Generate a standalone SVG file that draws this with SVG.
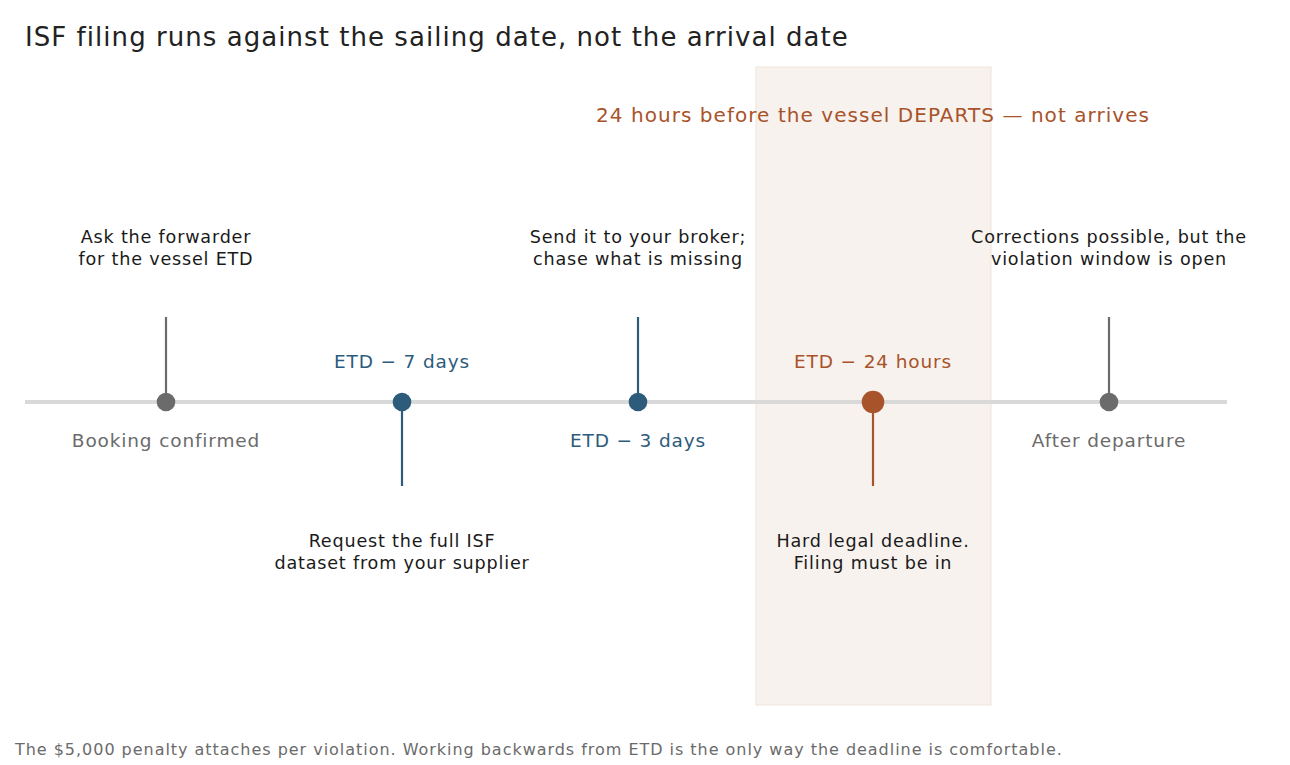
<svg xmlns="http://www.w3.org/2000/svg" width="1290" height="765" viewBox="0 0 1290 765">
<style>
text{font-family:"DejaVu Sans",sans-serif}
.title{font-size:26px;fill:#222;letter-spacing:1.05px}
.call{font-size:17.6px;fill:#1a1a1a;text-anchor:middle;letter-spacing:0.8px}
.lab{font-size:18.5px;text-anchor:middle;letter-spacing:0.85px}
.annot{font-size:20px;letter-spacing:1.05px}
.grey{fill:#6b6b6b}
.blue{fill:#2c5b7c}
.orange{fill:#a8532a}
.foot{font-size:16px;fill:#6b6b6b;letter-spacing:0.97px}
.stem{stroke-width:2.2}
</style>
<rect width="1290" height="765" fill="#fff"/>
<rect x="756" y="67" width="235" height="638" fill="#f7f2ee" stroke="#f0e3da" stroke-width="1"/>
<text class="title" x="25" y="46">ISF filing runs against the sailing date, not the arrival date</text>
<text class="lab annot orange" x="873" y="122">24 hours before the vessel DEPARTS — not arrives</text>
<g id="connectors">
<line x1="25" y1="402" x2="1227" y2="402" stroke="#d9d9d9" stroke-width="4"/>
<line class="stem" x1="166" y1="317" x2="166" y2="402" stroke="#6b6b6b"/>
<line class="stem" x1="402" y1="402" x2="402" y2="486" stroke="#2c5b7c"/>
<line class="stem" x1="638" y1="317" x2="638" y2="402" stroke="#2c5b7c"/>
<line class="stem" x1="873" y1="402" x2="873" y2="486" stroke="#a8532a"/>
<line class="stem" x1="1109" y1="317" x2="1109" y2="402" stroke="#6b6b6b"/>
</g>
<g id="n1">
<circle cx="166" cy="402" r="9.3" fill="#6b6b6b"/>
<text class="call" x="166" y="243">Ask the forwarder</text>
<text class="call" x="166" y="265">for the vessel ETD</text>
<text class="lab grey" x="166" y="447">Booking confirmed</text>
</g>
<g id="n2">
<circle cx="402" cy="402" r="9.3" fill="#2c5b7c"/>
<text class="lab blue" x="402" y="368">ETD − 7 days</text>
<text class="call" x="402" y="547">Request the full ISF</text>
<text class="call" x="402" y="569">dataset from your supplier</text>
</g>
<g id="n3">
<circle cx="638" cy="402" r="9.3" fill="#2c5b7c"/>
<text class="call" x="638" y="243">Send it to your broker;</text>
<text class="call" x="638" y="265">chase what is missing</text>
<text class="lab blue" x="638" y="447">ETD − 3 days</text>
</g>
<g id="n4">
<circle cx="873" cy="402" r="11.3" fill="#a8532a"/>
<text class="lab orange" x="873" y="368">ETD − 24 hours</text>
<text class="call" x="873" y="547">Hard legal deadline.</text>
<text class="call" x="873" y="569">Filing must be in</text>
</g>
<g id="n5">
<circle cx="1109" cy="402" r="9.3" fill="#6b6b6b"/>
<text class="call" x="1109" y="243">Corrections possible, but the</text>
<text class="call" x="1109" y="265">violation window is open</text>
<text class="lab grey" x="1109" y="447">After departure</text>
</g>
<text class="foot" x="15" y="755">The $5,000 penalty attaches per violation. Working backwards from ETD is the only way the deadline is comfortable.</text>
</svg>
